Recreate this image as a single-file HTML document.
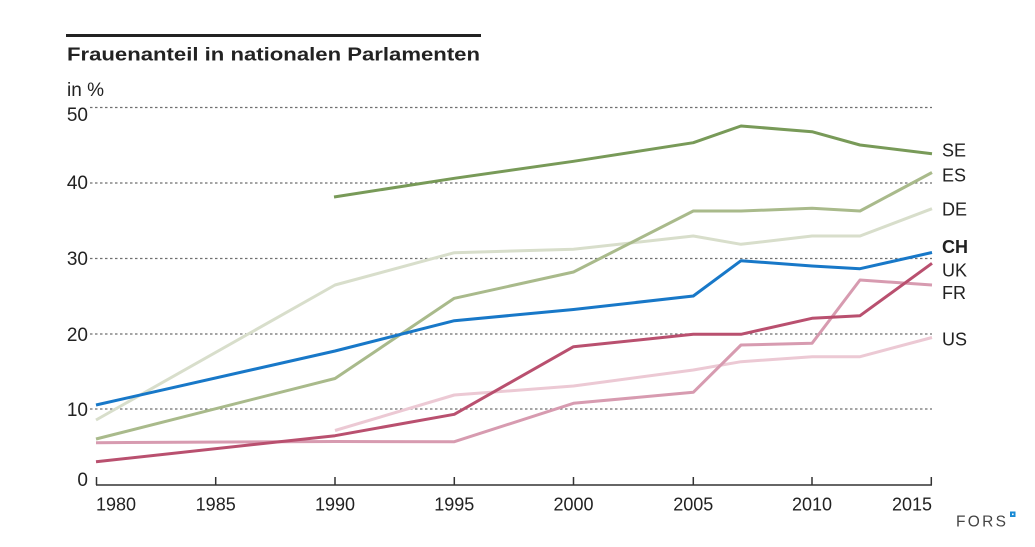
<!DOCTYPE html>
<html><head><meta charset="utf-8"><style>
html,body{margin:0;padding:0;background:#fff;}
svg{display:block;}
text{font-family:"Liberation Sans",Arial,sans-serif;fill:#222;}
</style></head><body>
<svg width="1035" height="547" viewBox="0 0 1035 547" xmlns="http://www.w3.org/2000/svg">
<rect x="0" y="0" width="1035" height="547" fill="#fff"/>
<rect x="66" y="34" width="415" height="3" fill="#222"/>
<text x="67" y="60.5" font-size="18" font-weight="bold" textLength="413" lengthAdjust="spacingAndGlyphs">Frauenanteil in nationalen Parlamenten</text>
<text x="67" y="96" font-size="19">in %</text>
<g stroke="#6f6f6f" stroke-width="1.2" stroke-dasharray="2.5,2.5" fill="none">
<line x1="90" y1="107.5" x2="932" y2="107.5"/>
<line x1="90" y1="183" x2="932" y2="183"/>
<line x1="90" y1="258.5" x2="932" y2="258.5"/>
<line x1="90" y1="334" x2="932" y2="334"/>
<line x1="90" y1="409" x2="932" y2="409"/>
</g>
<g font-size="19" text-anchor="end">
<text x="88" y="121">50</text>
<text x="88" y="189">40</text>
<text x="88" y="265">30</text>
<text x="88" y="341">20</text>
<text x="88" y="416">10</text>
<text x="88" y="486">0</text>
</g>
<g stroke="#333" stroke-width="1.5" fill="none">
<line x1="96" y1="485" x2="932" y2="485"/>
<line x1="96.5" y1="477" x2="96.5" y2="485"/>
<line x1="215.7" y1="477" x2="215.7" y2="485"/>
<line x1="335" y1="477" x2="335" y2="485"/>
<line x1="454.3" y1="477" x2="454.3" y2="485"/>
<line x1="573.5" y1="477" x2="573.5" y2="485"/>
<line x1="693.3" y1="477" x2="693.3" y2="485"/>
<line x1="812" y1="477" x2="812" y2="485"/>
<line x1="931.3" y1="477" x2="931.3" y2="485"/>
</g>
<g font-size="18">
<text x="96" y="510.5" text-anchor="start">1980</text>
<text x="215.7" y="510.5" text-anchor="middle">1985</text>
<text x="335" y="510.5" text-anchor="middle">1990</text>
<text x="454.3" y="510.5" text-anchor="middle">1995</text>
<text x="573.5" y="510.5" text-anchor="middle">2000</text>
<text x="693.3" y="510.5" text-anchor="middle">2005</text>
<text x="812" y="510.5" text-anchor="middle">2010</text>
<text x="932" y="510.5" text-anchor="end">2015</text>
</g>
<g fill="none" stroke-width="3" stroke-linejoin="round" stroke-linecap="butt">
<!-- US -->
<polyline stroke="#ecc9d4" points="335,430.5 454.3,395 573.5,386 693.3,370 741,361.7 812,356.7 860,356.7 932,337.5"/>
<!-- DE -->
<polyline stroke="#d8decb" points="96,420 335,285 454.3,252.7 573.5,249.3 693.3,236 741,244.3 812,236 860,236 932,208.7"/>
<!-- FR -->
<polyline stroke="#d79bb0" points="96,442.7 335,441.5 454.3,441.7 573.5,403.3 693.3,392.3 741,345 812,343.3 860,280 932,285"/>
<!-- ES -->
<polyline stroke="#a9ba8b" points="96,439 335,378.5 454.3,298.3 573.5,272 693.3,211 741,211 812,208.3 860,211 932,172.5"/>
<!-- UK -->
<polyline stroke="#b9506f" points="96,461.7 335,435.7 454.3,414.3 573.5,346.7 693.3,334.3 741,334.3 812,318.3 860,315.7 932,263.3"/>
<!-- CH -->
<polyline stroke="#1878c8" points="96,405 335,351 454.3,320.7 573.5,309.5 693.3,296 741,260.7 812,266 860,268.7 932,252.5"/>
<!-- SE -->
<polyline stroke="#789a58" points="334,197 454.3,178.3 573.5,161.3 693.3,142.7 741,126 812,131.7 860,145 932,153.7"/>
</g>
<g font-size="18">
<text x="942" y="156.5">SE</text>
<text x="942" y="181.5">ES</text>
<text x="942" y="215.5">DE</text>
<text x="942" y="253" font-weight="bold">CH</text>
<text x="942" y="276.5">UK</text>
<text x="942" y="299">FR</text>
<text x="942" y="345.5">US</text>
</g>
<text x="956" y="526.5" font-size="15.5" textLength="50" lengthAdjust="spacing" style="fill:#444">FORS</text>
<rect x="1010" y="511.5" width="5.5" height="5.5" fill="#1a8ad4"/>
<rect x="1012" y="513.5" width="1.6" height="1.6" fill="#fff"/>
</svg>
</body></html>
